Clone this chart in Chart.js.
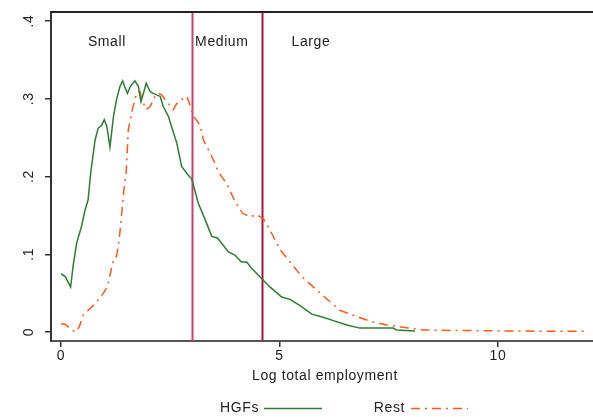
<!DOCTYPE html>
<html>
<head>
<meta charset="utf-8">
<script src="https://cdn.jsdelivr.net/npm/chart.js@4"></script>
<style>
  html, body { margin: 0; padding: 0; background: #fff; }
  #wrap { width: 593px; height: 417px; position: relative; }
</style>
</head>
<body>
<div id="wrap"><canvas id="c" width="593" height="417"></canvas></div>
<script>
// ---- data ----
const hgfX = [0,0.1,0.22,0.28,0.36,0.47,0.55,0.62,0.68,0.78,0.85,0.93,0.99,1.05,1.12,1.2,1.27,1.35,1.41,1.46,1.52,1.59,1.69,1.77,1.83,1.95,2.04,2.11,2.27,2.34,2.46,2.53,2.65,2.76,2.91,2.99,3.14,3.33,3.45,3.58,3.83,3.98,4.13,4.25,4.36,4.55,4.78,5.05,5.24,5.47,5.74,6.0,6.23,6.54,6.84,7.2,7.6,7.68,8.1];
const hgfY = [0.075,0.071,0.058,0.086,0.115,0.136,0.157,0.17,0.205,0.247,0.262,0.266,0.273,0.264,0.238,0.277,0.299,0.316,0.323,0.315,0.307,0.316,0.323,0.316,0.296,0.32,0.309,0.307,0.303,0.29,0.277,0.264,0.243,0.213,0.202,0.197,0.166,0.14,0.123,0.121,0.103,0.099,0.09,0.09,0.082,0.071,0.058,0.045,0.042,0.034,0.023,0.019,0.0146,0.009,0.005,0.005,0.005,0.0026,0.0013];
const restX = [0,0.09,0.24,0.34,0.42,0.51,0.7,0.82,0.97,1.06,1.12,1.2,1.26,1.31,1.35,1.39,1.44,1.49,1.54,1.64,1.73,1.81,1.85,1.95,2.04,2.15,2.23,2.3,2.42,2.57,2.65,2.76,2.88,2.95,3.03,3.18,3.26,3.45,3.6,3.8,3.98,4.15,4.32,4.47,4.63,4.82,5.01,5.24,5.5,5.77,6.05,6.38,6.73,7.11,7.45,7.91,8.29,9,10,11,12];
const restY = [0.0103,0.0103,0.0026,0,0.007,0.022,0.032,0.039,0.05,0.058,0.073,0.093,0.095,0.11,0.129,0.153,0.183,0.204,0.26,0.288,0.307,0.309,0.299,0.286,0.29,0.303,0.307,0.305,0.296,0.286,0.294,0.299,0.303,0.292,0.278,0.266,0.247,0.226,0.206,0.19,0.168,0.153,0.148,0.151,0.146,0.127,0.106,0.09,0.072,0.058,0.044,0.028,0.0206,0.0133,0.009,0.0056,0.0026,0.002,0.0015,0.001,0.0008];
const seriesNames = ['HGFs', 'Rest'];
const xTicks = [0, 5, 10];
const yTicks = [0, 0.1, 0.2, 0.3, 0.4];
const yTickLabels = ['0', '.1', '.2', '.3', '.4'];
const sizeCutoffs = [2.996, 4.605];           // ln(20), ln(100)
const regionNames = ['Small', 'Medium', 'Large'];
const regionX = [1.05, 3.68, 5.72];
const regionY = 0.373;
const xTitle = 'Log total employment';

// ---- styles ----
const FONT = '14px "Liberation Sans", Arial, sans-serif';
const TXT = '#222';
const cutoffColors = ['#cc4070', '#a3163f'];

const toPts = (xs, ys) => xs.map((x, i) => ({ x: x, y: ys[i] }));

const decor = {
  id: 'decor',
  beforeDatasetsDraw(chart) {
    const ctx = chart.ctx, a = chart.chartArea, xs = chart.scales.x;
    ctx.save();
    sizeCutoffs.forEach((v, i) => {
      const px = Math.round(xs.getPixelForValue(v)) + 0.5;
      ctx.strokeStyle = cutoffColors[i];
      ctx.lineWidth = 2;
      ctx.beginPath(); ctx.moveTo(px, a.top); ctx.lineTo(px, a.bottom); ctx.stroke();
    });
    ctx.restore();
  },
  afterDraw(chart) {
    const ctx = chart.ctx, a = chart.chartArea, xs = chart.scales.x, ys = chart.scales.y;
    ctx.save();
    // top border
    ctx.strokeStyle = '#222'; ctx.lineWidth = 2;
    ctx.beginPath(); ctx.moveTo(a.left, a.top); ctx.lineTo(chart.width, a.top); ctx.stroke();
    ctx.font = FONT; ctx.fillStyle = TXT;
    try { ctx.letterSpacing = '0.6px'; } catch (e) {}
    // region labels
    ctx.textAlign = 'center'; ctx.textBaseline = 'middle';
    regionNames.forEach((t, i) => {
      ctx.fillText(t, xs.getPixelForValue(regionX[i]), ys.getPixelForValue(regionY));
    });
    // y tick labels, rotated
    yTicks.forEach((v, i) => {
      ctx.save();
      ctx.translate(29, ys.getPixelForValue(v));
      ctx.rotate(-Math.PI / 2);
      ctx.textAlign = 'center'; ctx.textBaseline = 'middle';
      ctx.fillText(yTickLabels[i], 0, 0);
      ctx.restore();
    });
    // x tick labels
    ctx.textAlign = 'center'; ctx.textBaseline = 'middle';
    xTicks.forEach(v => ctx.fillText(String(v), xs.getPixelForValue(v), a.bottom + 15));
    // x title
    ctx.fillText(xTitle, (a.left + a.right) / 2 + 3, a.bottom + 35);
    // legend
    const ly = 408;
    const ds = chart.data.datasets;
    const items = [
      { textRight: 259, lx0: 264, lx1: 322 },
      { textRight: 405, lx0: 411, lx1: 468 }
    ];
    items.forEach((it, i) => {
      ctx.textAlign = 'right';
      ctx.fillStyle = TXT;
      ctx.fillText(ds[i].label, it.textRight, ly);
      ctx.strokeStyle = ds[i].borderColor;
      ctx.lineWidth = ds[i].borderWidth;
      ctx.setLineDash(ds[i].borderDash || []);
      ctx.beginPath(); ctx.moveTo(it.lx0, ly + 0.5); ctx.lineTo(it.lx1, ly + 0.5); ctx.stroke();
      ctx.setLineDash([]);
    });
    ctx.restore();
  }
};

new Chart(document.getElementById('c'), {
  type: 'line',
  data: {
    datasets: [
      { label: seriesNames[0], data: toPts(hgfX, hgfY), borderColor: '#2e7d32', borderWidth: 1.5, pointRadius: 0, tension: 0, fill: false },
      { label: seriesNames[1], data: toPts(restX, restY), borderColor: '#ff5a1e', borderWidth: 1.5, borderDash: [9, 5, 2, 5], pointRadius: 0, tension: 0, fill: false }
    ]
  },
  options: {
    responsive: false,
    animation: false,
    layout: { padding: { top: 12, right: 0, left: 0, bottom: 0 } },
    plugins: { legend: { display: false }, tooltip: { enabled: false } },
    scales: {
      x: {
        type: 'linear', min: -0.229, max: 12.174,
        afterBuildTicks: s => { s.ticks = xTicks.map(v => ({ value: v })); },
        afterFit: s => { s.height = 76; },
        ticks: { display: false },
        grid: { drawOnChartArea: false, drawTicks: true, tickLength: 6, color: '#333', lineWidth: 1.5 },
        border: { display: true, color: '#555', width: 2 }
      },
      y: {
        type: 'linear', min: -0.01158, max: 0.4116,
        afterBuildTicks: s => { s.ticks = yTicks.map(v => ({ value: v })); },
        afterFit: s => { s.width = 51; },
        ticks: { display: false },
        grid: { drawOnChartArea: false, drawTicks: true, tickLength: 6, color: '#333', lineWidth: 1.5 },
        border: { display: true, color: '#333', width: 2 }
      }
    }
  },
  plugins: [decor]
});
</script>
</body>
</html>
